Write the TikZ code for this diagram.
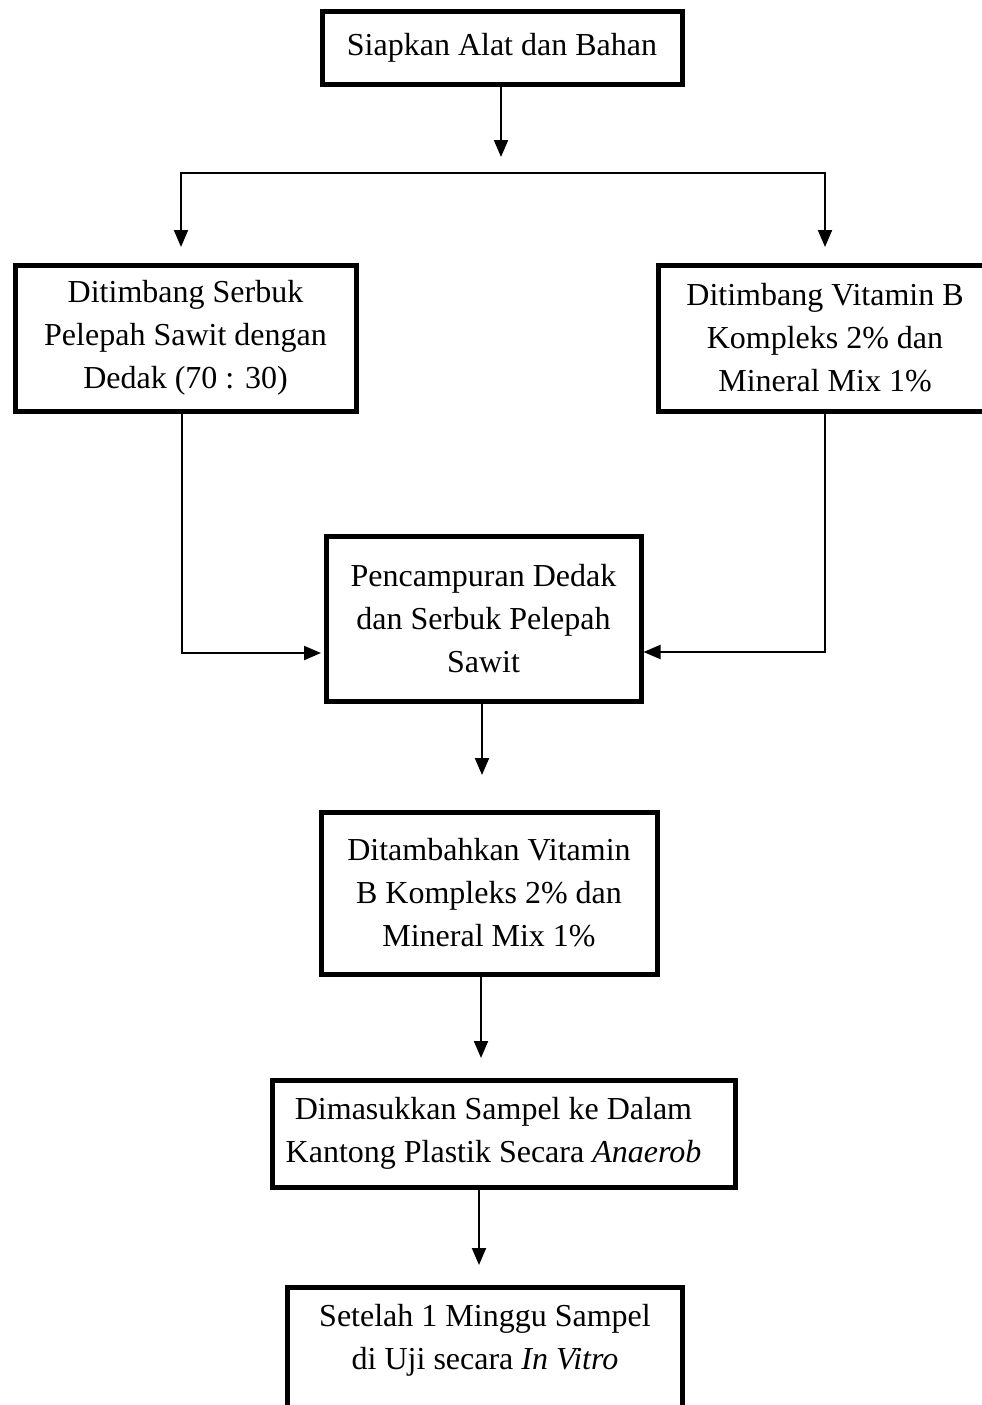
\documentclass[tikz,border=0pt]{standalone}
\usepackage{fontspec}
\setmainfont{Liberation Serif}
\usetikzlibrary{arrows.meta}
\begin{document}
\begin{tikzpicture}[x=1pt,y=-1pt,
  box/.style={draw, line width=5pt, inner sep=0pt, align=center, font=\fontsize{32}{43}\selectfont},
  txt/.style={inner sep=0pt, align=center, font=\fontsize{32}{43}\selectfont},
  arr/.style={line width=2pt, -{Triangle[width=14pt,length=17pt]}},
  ln/.style={line width=2pt, line cap=rect}]
\useasboundingbox (0,0) rectangle (982,1405);

\node[box, minimum width=360, minimum height=72] (b1) at (502,48) {Siapkan Alat dan Bahan};
\node[box, minimum width=341, minimum height=146] (b2) at (185.5,338) {Ditimbang Serbuk\\Pelepah Sawit dengan\\Dedak (70 : 30)};
\node[box, minimum width=334, minimum height=146] (b3) at (825,338) {Ditimbang Vitamin B\\Kompleks 2\% dan\\Mineral Mix 1\%};
\node[box, minimum width=315, minimum height=165] (b4) at (483.5,618.5) {Pencampuran Dedak\\dan Serbuk Pelepah\\Sawit};
\node[box, minimum width=336, minimum height=162] (b5) at (489,893) {Ditambahkan Vitamin\\B Kompleks 2\% dan\\Mineral Mix 1\%};
\node[box, minimum width=463, minimum height=107] (b6) at (503.5,1133.5) {\hspace*{-20pt}Dimasukkan Sampel ke Dalam\\\hspace*{-20pt}Kantong Plastik Secara \textit{Anaerob}};
\node[box, minimum width=395, minimum height=160, anchor=north] (b7) at (484.5,1285) {};
\node[txt] (b7t) at (485,1340) {Setelah 1 Minggu Sampel\\di Uji secara \textit{In Vitro}};

% top split
\coordinate (t1) at (501,157);
\draw[arr] (b1.south -| t1) -- (t1);
\coordinate (sL) at (181,173);
\coordinate (sR) at (825,173);
\coordinate (aL) at (181,247);
\coordinate (aR) at (825,247);
\draw[ln] (sL) -- (sR);
\draw[arr] (sL) -- (aL);
\draw[arr] (sR) -- (aR);

% side connectors into mixing box
\coordinate (lj) at (182,653);
\coordinate (rj) at (825,652);
\draw[arr] (b2.south -| lj) |- ([xshift=-2.5pt]b4.west |- lj);
\draw[arr] (b3.south -| rj) |- (b4.east |- rj);

% downward arrows
\coordinate (a5) at (482,775);
\draw[arr] (b4.south -| a5) -- (a5);
\coordinate (a6) at (481,1058);
\draw[arr] (b5.south -| a6) -- (a6);
\coordinate (a7) at (479,1265);
\draw[arr] (b6.south -| a7) -- (a7);
\end{tikzpicture}
\end{document}
